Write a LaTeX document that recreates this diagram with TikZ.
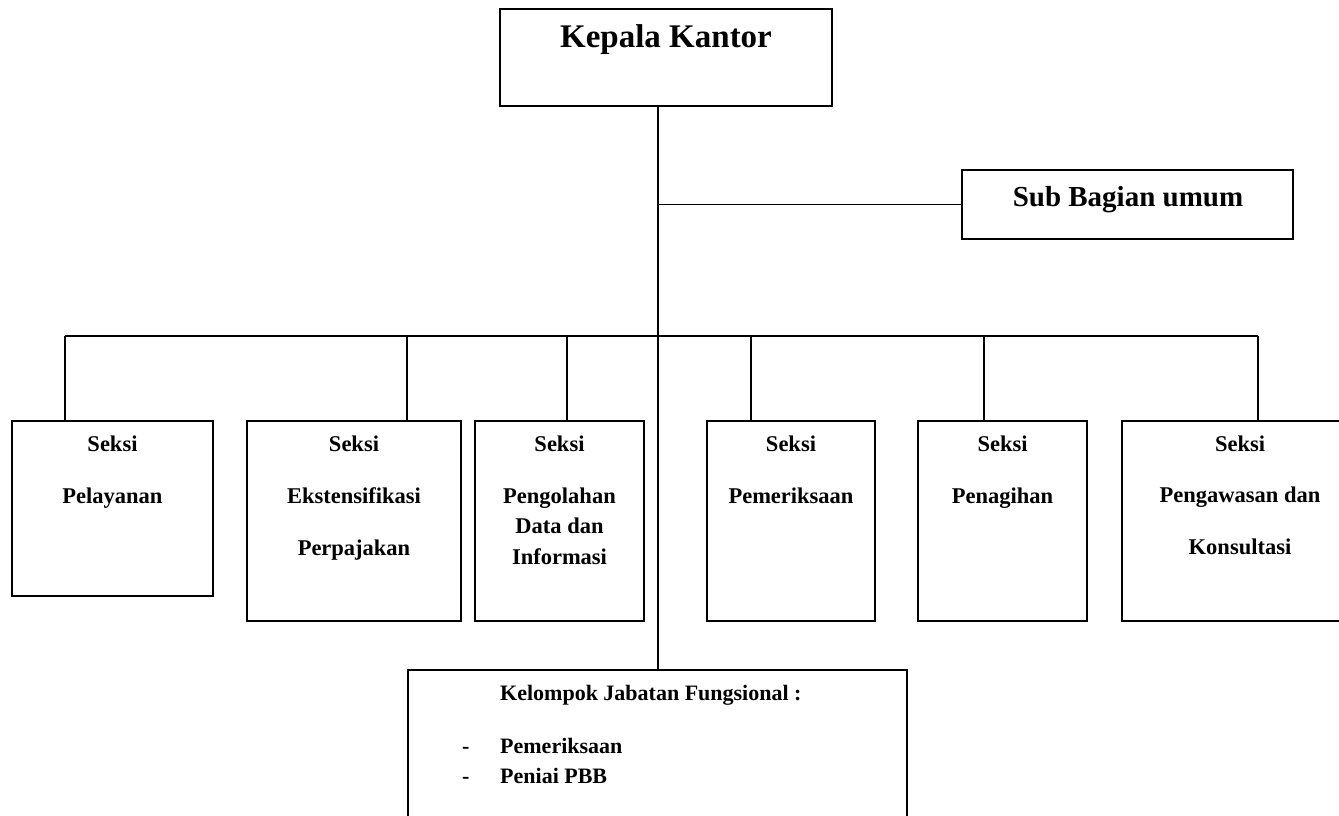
\documentclass[tikz,border=0pt]{standalone}
\usepackage{fontspec}
\setmainfont{Liberation Serif}
\begin{document}
\begin{tikzpicture}[x=1pt,y=-1pt,
  box/.style={draw=black,line width=1.2pt,inner sep=0pt,outer sep=0pt,anchor=north west},
  conn/.style={draw=black,line width=1.2pt},
  big/.style={font=\fontsize{33}{38}\selectfont\bfseries,anchor=base,inner sep=0pt},
  mid/.style={font=\fontsize{29}{34}\selectfont\bfseries,anchor=base,inner sep=0pt},
  small/.style={font=\fontsize{22.5}{27}\selectfont\bfseries,anchor=base,inner sep=0pt},
  smallw/.style={font=\fontsize{22}{27}\selectfont\bfseries,anchor=base west,inner sep=0pt}]
\useasboundingbox (0,0) rectangle (1339,816);
\clip (0,0) rectangle (1339,816);
\fill[white] (0,0) rectangle (1339,816);

% boxes
\node[box,minimum width=332pt,minimum height=97pt] (kep) at (500,9) {};
\node[box,minimum width=331pt,minimum height=69pt] (sub) at (962,170) {};
\node[box,minimum width=201pt,minimum height=175pt] (a) at (12,421) {};
\node[box,minimum width=214pt,minimum height=200pt] (b) at (247,421) {};
\node[box,minimum width=169pt,minimum height=200pt] (c) at (475,421) {};
\node[box,minimum width=168pt,minimum height=200pt] (d) at (707,421) {};
\node[box,minimum width=169pt,minimum height=200pt] (e) at (918,421) {};
\node[box,minimum width=236pt,minimum height=200pt] (f) at (1122,421) {};
\node[box,minimum width=499pt,minimum height=170pt] (kel) at (408,670) {};

% texts
\node[big] at (666,48) {Kepala Kantor};
\node[mid] at (1128,206) {Sub Bagian umum};

\node[small] at (112.5,451) {Seksi};
\node[small] at (112.5,503) {Pelayanan};

\node[small] at (354,451) {Seksi};
\node[small] at (354,503) {Ekstensifikasi};
\node[small] at (354,555) {Perpajakan};

\node[small] at (559.5,451) {Seksi};
\node[small] at (559.5,503) {Pengolahan};
\node[small] at (559.5,533) {Data dan};
\node[small] at (559.5,564) {Informasi};

\node[small] at (791,451) {Seksi};
\node[small] at (791,503) {Pemeriksaan};

\node[small] at (1002.5,451) {Seksi};
\node[small] at (1002.5,503) {Penagihan};

\node[small] at (1240,451) {Seksi};
\node[small] at (1240,502) {Pengawasan dan};
\node[small] at (1240,554) {Konsultasi};

\node[smallw] at (500,700) {Kelompok Jabatan Fungsional :};
\node[smallw] at (462,753) {-};
\node[smallw] at (500,753) {Pemeriksaan};
\node[smallw] at (462,783) {-};
\node[smallw] at (500,783) {Peniai PBB};

% connector coordinates
\coordinate (hub) at (658,336);
\coordinate (dA) at (65,336);
\coordinate (dB) at (407,336);
\coordinate (dC) at (567,336);
\coordinate (dD) at (751,336);
\coordinate (dE) at (984,336);
\coordinate (dF) at (1258,336);

% connectors
\draw[conn] (kep.south -| hub) -- (kel.north -| hub);
\draw[conn] (sub.west) -- (sub.west -| hub);
\draw[conn] (dA) -- (dF);
\draw[conn] (dA) -- (dA |- a.north);
\draw[conn] (dB) -- (dB |- b.north);
\draw[conn] (dC) -- (dC |- c.north);
\draw[conn] (dD) -- (dD |- d.north);
\draw[conn] (dE) -- (dE |- e.north);
\draw[conn] (dF) -- (dF |- f.north);
\end{tikzpicture}
\end{document}
